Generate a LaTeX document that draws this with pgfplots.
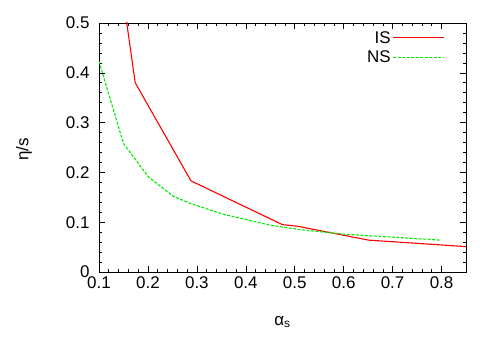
\documentclass[border=0pt]{standalone}
\usepackage{fontspec}
\setmainfont{Liberation Sans}
\usepackage{pgfplots}
\pgfplotsset{compat=1.18}
\usetikzlibrary{calc}
\definecolor{isred}{RGB}{255,0,0}
\definecolor{nsgreen}{RGB}{0,235,0}
\newcommand{\gfont}{\fontsize{17}{20}\selectfont}

\begin{document}
\begin{tikzpicture}[font=\gfont]
\begin{axis}[name=ax,scale only axis,width=367bp,height=249bp,
  xmin=0.1,xmax=0.85,ymin=0,ymax=0.5,
  xtick={0.1,0.2,0.3,0.4,0.5,0.6,0.7,0.8},ytick={0,0.1,0.2,0.3,0.4,0.5},
  minor tick num=4,tick align=inside,
  major tick length=6bp,minor tick length=3bp,
  every tick/.style={black,line width=0.6pt},
  axis line style={line width=0.8pt},
  /pgf/number format/assume math mode=true,
  tick label style={font=\gfont},
  yticklabel style={/pgf/number format/fixed,xshift=-6bp},
  xticklabel style={/pgf/number format/fixed,/pgf/number format/precision=1,yshift=-1bp},
  xlabel={α\textsubscript{s}},
  xlabel style={at={(rel axis cs:0.5,0)},anchor=center,yshift=-50bp},
  legend plot pos=right,legend cell align=right,
  legend style={draw=none,fill=none,at={(1,1)},anchor=north east,xshift=-18bp,yshift=-4bp,
    font=\gfont,row sep=2bp,/tikz/every even column/.append style={column sep=10bp}},
  legend image code/.code={\draw[#1] (0bp,0bp) -- (51bp,0bp);},
  clip=true]
\addplot[isred,line width=1.1pt] coordinates {
 (0.150,0.547) (0.174,0.380) (0.288,0.183) (0.475,0.095) (0.505,0.092)
 (0.651,0.064) (0.850,0.051)};
\addlegendentry{IS}
\addplot[nsgreen,line width=1.1pt,dash pattern=on 3bp off 1.5bp] coordinates {
 (0.100,0.423) (0.150,0.258) (0.201,0.191) (0.252,0.152) (0.286,0.138)
 (0.354,0.116) (0.450,0.094) (0.511,0.085) (0.600,0.076) (0.700,0.070) (0.797,0.064)};
\addlegendentry{NS}
\end{axis}
\node[rotate=90] at ($(ax.west)+(-75bp,-2bp)$) {η/s};
\pgfresetboundingbox
\useasboundingbox ($(ax.south west)+(-99bp,-78bp)$) rectangle ($(ax.north east)+(34bp,23bp)$);
\end{tikzpicture}
\end{document}
